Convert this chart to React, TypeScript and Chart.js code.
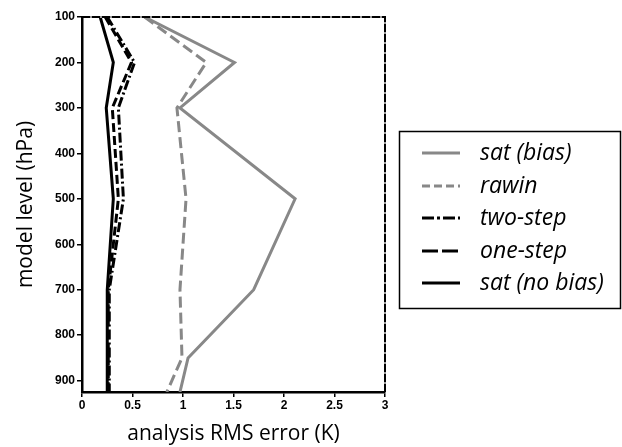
import React, { useEffect, useRef } from "react";
import { Chart, registerables } from "chart.js";

Chart.register(...registerables);

// Pressure levels (hPa) and RMS errors (K) for each experiment
const levels = [100, 200, 300, 500, 700, 850, 925];
const satBias = [0.62, 1.51, 0.97, 2.11, 1.7, 1.05, 0.97];
const rawin = [0.62, 1.23, 0.94, 1.03, 0.97, 0.99, 0.84];
const twoStep = [0.25, 0.52, 0.36, 0.41, 0.27, 0.27, 0.27];
const oneStep = [0.23, 0.49, 0.3, 0.36, 0.26, 0.26, 0.26];
const satNoBias = [0.18, 0.31, 0.24, 0.31, 0.25, 0.25, 0.25];

const seriesNames = ["sat (bias)", "rawin", "two-step", "one-step", "sat (no bias)"];
const xTickLabels = ["0", "0.5", "1", "1.5", "2", "2.5", "3"];
const yTickValues = [100, 200, 300, 400, 500, 600, 700, 800, 900];

const GRAY = "#888888";
const BLACK = "#000000";

const styles = [
  { color: GRAY, dash: [] as number[] },
  { color: GRAY, dash: [11, 5] },
  { color: BLACK, dash: [10, 3, 2, 3] },
  { color: BLACK, dash: [9, 4] },
  { color: BLACK, dash: [] as number[] },
];

const legendDash = [[], [8, 4, 8, 4, 8, 4, 2, 4], [12, 3, 3, 3], [16, 4], []];

const frameAndLegend = {
  id: "frameAndLegend",
  afterDatasetsDraw(chart: any) {
    const { ctx, chartArea } = chart;
    const { left, right, top, bottom } = chartArea;
    ctx.save();
    // top and right frame edges
    ctx.lineWidth = 2;
    ctx.strokeStyle = "#9a9a9a";
    ctx.beginPath();
    ctx.moveTo(left, top);
    ctx.lineTo(right, top);
    ctx.lineTo(right, bottom);
    ctx.stroke();
    ctx.strokeStyle = "#000";
    ctx.setLineDash([8, 2]);
    ctx.beginPath();
    ctx.moveTo(left, top);
    ctx.lineTo(right, top);
    ctx.lineTo(right, bottom);
    ctx.stroke();
    ctx.restore();
  },
  afterDraw(chart: any) {
    const { ctx } = chart;
    ctx.save();
    ctx.strokeStyle = "#000";
    ctx.lineWidth = 1.5;
    ctx.strokeRect(399.5, 131.5, 221, 177);
    const rowY = [153, 186, 218, 251, 283];
    seriesNames.forEach((name, i) => {
      const y = rowY[i];
      ctx.strokeStyle = styles[i].color;
      ctx.lineWidth = 3;
      ctx.setLineDash(legendDash[i]);
      ctx.beginPath();
      ctx.moveTo(422, y);
      ctx.lineTo(460, y);
      ctx.stroke();
      ctx.setLineDash([]);
      ctx.fillStyle = "#000";
      ctx.font = "italic 23px 'Open Sans'";
      ctx.textBaseline = "middle";
      ctx.textAlign = "left";
      ctx.fillText(name, 480, y);
    });
    ctx.restore();
  },
};

const toPoints = (vals: number[]) => vals.map((v, i) => ({ x: v, y: levels[i] }));

export default function App() {
  const ref = useRef<HTMLCanvasElement>(null);
  useEffect(() => {
    if (!ref.current) return;
    const all = [satBias, rawin, twoStep, oneStep, satNoBias];
    const chart = new Chart(ref.current, {
      type: "line",
      data: {
        datasets: all.map((vals, i) => ({
          label: seriesNames[i],
          data: toPoints(vals),
          borderColor: styles[i].color,
          borderDash: styles[i].dash,
          borderWidth: 3,
          pointRadius: 0,
          tension: 0,
          fill: false,
        })),
      },
      options: {
        animation: false,
        responsive: false,
        maintainAspectRatio: false,
        layout: { padding: { left: 0, top: 17, right: 237, bottom: 0 } },
        plugins: { legend: { display: false }, tooltip: { enabled: false } },
        scales: {
          x: {
            type: "linear",
            min: 0,
            max: 3,
            afterFit: (s: any) => {
              s.height = 55;
            },
            afterBuildTicks: (s: any) => {
              s.ticks = xTickLabels.map((t) => ({ value: parseFloat(t) }));
            },
            ticks: {
              color: "#000",
              padding: 1,
              font: { family: "'Liberation Sans'", weight: "bold", size: 12 },
              callback: (v: any) => xTickLabels[Math.round(Number(v) * 2)] ?? "",
              maxRotation: 0,
            },
            grid: { drawOnChartArea: false, drawTicks: true, tickLength: 5, color: "#000", lineWidth: 1.5 },
            border: { display: true, color: "#000", width: 2.5 },
            title: {
              display: true,
              text: "analysis RMS error (K)",
              color: "#000",
              font: { family: "'Open Sans'", size: 21 },
              padding: { top: 0, bottom: 0 },
            },
          },
          y: {
            type: "linear",
            reverse: true,
            min: 100,
            max: 925,
            afterFit: (s: any) => {
              s.width = 82;
            },
            afterBuildTicks: (s: any) => {
              s.ticks = yTickValues.map((v) => ({ value: v }));
            },
            ticks: {
              color: "#000",
              padding: 2,
              font: { family: "'Liberation Sans'", weight: "bold", size: 12 },
            },
            grid: { drawOnChartArea: false, drawTicks: true, tickLength: 5, color: "#000", lineWidth: 1.5 },
            border: { display: true, color: "#000", width: 2.5 },
            title: {
              display: true,
              text: "model level (hPa)",
              color: "#000",
              font: { family: "'Open Sans'", size: 21 },
              padding: { top: 13, bottom: 0 },
            },
          },
        },
      },
      plugins: [frameAndLegend],
    });
    return () => chart.destroy();
  }, []);
  return (
    <div style={{ position: "fixed", left: 0, top: 0, width: 622, height: 447, background: "#fff" }}>
      <canvas ref={ref} width={622} height={447} style={{ display: "block" }} />
    </div>
  );
}
